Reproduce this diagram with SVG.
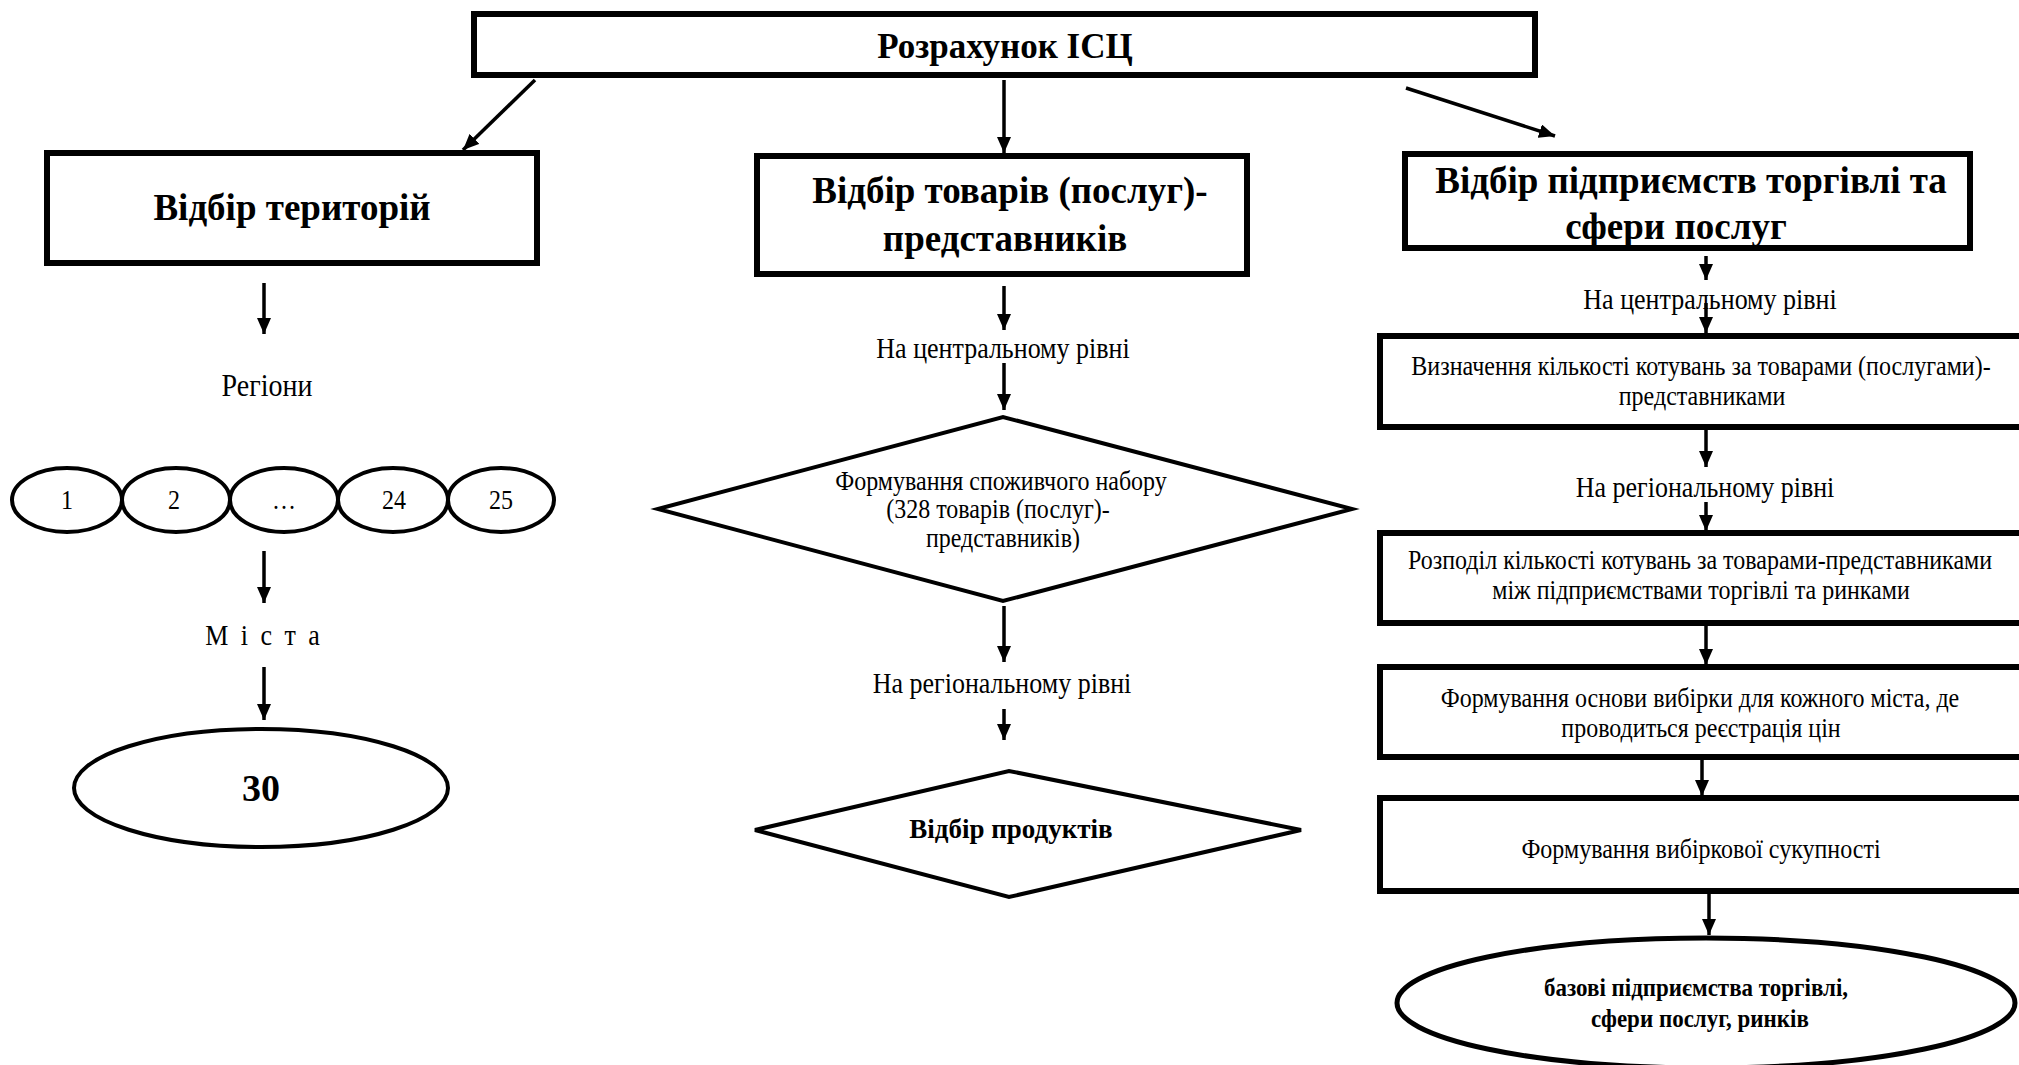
<svg xmlns="http://www.w3.org/2000/svg" width="2019" height="1065" viewBox="0 0 2019 1065">
<style>
.box{fill:#fff;stroke:#000;stroke-width:6}
.dia{fill:#fff;stroke:#000;stroke-width:4}
.ell{fill:#fff;stroke:#000;stroke-width:4}
.con{stroke:#000;stroke-width:3.5;fill:none;marker-end:url(#ah)}
text{font-family:"Liberation Serif","Times New Roman",serif;fill:#000;text-anchor:middle}
.h{font-size:37px;font-weight:bold}
.t{font-size:35px;font-weight:bold}
.r{font-size:24px}
.rl{font-size:26px}
.b{font-size:23px;font-weight:bold}
</style>
<defs>
<marker id="ah" markerUnits="userSpaceOnUse" markerWidth="16" markerHeight="14" refX="16" refY="7" orient="auto">
<path d="M0,0 L16,7 L0,14 z" fill="#000"/>
</marker>
</defs>
<rect width="2019" height="1065" fill="#fff"/>

<g id="connectors">
<line class="con" x1="535" y1="80" x2="463" y2="150"/>
<line class="con" x1="1004" y1="80" x2="1004" y2="153"/>
<line class="con" x1="1406" y1="88" x2="1555" y2="136"/>
<line class="con" x1="264" y1="283" x2="264" y2="334"/>
<line class="con" x1="264" y1="551" x2="264" y2="603"/>
<line class="con" x1="264" y1="667" x2="264" y2="720"/>
<line class="con" x1="1004" y1="286" x2="1004" y2="330"/>
<line class="con" x1="1004" y1="363" x2="1004" y2="410"/>
<line class="con" x1="1004" y1="606" x2="1004" y2="662"/>
<line class="con" x1="1004" y1="709" x2="1004" y2="740"/>
<line class="con" x1="1706" y1="256" x2="1706" y2="280"/>
<line class="con" x1="1706" y1="303" x2="1706" y2="333"/>
<line class="con" x1="1706" y1="430" x2="1706" y2="467"/>
<line class="con" x1="1706" y1="502" x2="1706" y2="531"/>
<line class="con" x1="1706" y1="625" x2="1706" y2="665"/>
<line class="con" x1="1702" y1="759" x2="1702" y2="796"/>
<line class="con" x1="1709" y1="893" x2="1709" y2="935"/>
</g>

<g id="n-top">
<rect class="box" x="474" y="14" width="1061" height="61"/>
<text class="t" x="1005" y="58">Розрахунок ІСЦ</text>
</g>

<g id="n-territories">
<rect class="box" x="47" y="153" width="490" height="110"/>
<text class="h" x="292" y="220">Відбір територій</text>
</g>

<g id="n-goods">
<rect class="box" x="757" y="156" width="490" height="118"/>
<text class="h" x="1010" y="203">Відбір товарів (послуг)-</text>
<text class="h" x="1005" y="251">представників</text>
</g>

<g id="n-enterprises">
<rect class="box" x="1405" y="154" width="565" height="94"/>
<text class="h" x="1691" y="193">Відбір підприємств торгівлі та</text>
<text class="h" x="1676" y="239">сфери послуг</text>
</g>

<g id="n-regions-label">
<text class="rl" style="font-size:28px" transform="translate(267,396) scale(1,1.15)">Регіони</text>
</g>

<g id="n-r1"><ellipse class="ell" cx="67" cy="500" rx="55" ry="32"/><text class="r" transform="translate(67,509) scale(1,1.15)">1</text></g>
<g id="n-r2"><ellipse class="ell" cx="176" cy="500" rx="54" ry="32"/><text class="r" transform="translate(174,509) scale(1,1.15)">2</text></g>
<g id="n-r3"><ellipse class="ell" cx="284" cy="500" rx="54" ry="32"/><text class="r" transform="translate(284,509) scale(1,1.15)">…</text></g>
<g id="n-r24"><ellipse class="ell" cx="393" cy="500" rx="55" ry="32"/><text class="r" transform="translate(394,509) scale(1,1.15)">24</text></g>
<g id="n-r25"><ellipse class="ell" cx="501" cy="500" rx="53" ry="32"/><text class="r" transform="translate(501,509) scale(1,1.15)">25</text></g>

<g id="n-cities-label">
<text class="rl" style="letter-spacing:3px" transform="translate(264,645) scale(1,1.15)">М і с т а</text>
</g>

<g id="n-30">
<ellipse class="ell" cx="261" cy="788" rx="187" ry="59"/>
<text class="t" style="font-size:38px" x="261" y="801">30</text>
</g>

<g id="n-central-mid">
<text class="rl" transform="translate(1003,358) scale(1,1.15)">На центральному рівні</text>
</g>

<g id="n-consumer-set">
<polygon class="dia" points="658,509 1003,417 1352,509 1003,601"/>
<text class="r" transform="translate(1001,490) scale(1,1.15)">Формування споживчого набору</text>
<text class="r" transform="translate(998,518) scale(1,1.15)">(328 товарів (послуг)-</text>
<text class="r" transform="translate(1003,547) scale(1,1.15)">представників)</text>
</g>

<g id="n-regional-mid">
<text class="rl" transform="translate(1002,693) scale(1,1.15)">На регіональному рівні</text>
</g>

<g id="n-products">
<polygon class="dia" points="755,830 1009,771 1301,830 1009,897"/>
<text class="b" style="font-size:27px" x="1011" y="838">Відбір продуктів</text>
</g>

<g id="n-central-right">
<text class="rl" transform="translate(1710,309) scale(1,1.15)">На центральному рівні</text>
</g>

<g id="n-quotes">
<rect class="box" x="1380" y="336" width="645" height="91"/>
<text class="r" transform="translate(1701,375) scale(1,1.15)">Визначення кількості котувань за товарами (послугами)-</text>
<text class="r" transform="translate(1702,405) scale(1,1.15)">представниками</text>
</g>

<g id="n-regional-right">
<text class="rl" transform="translate(1705,497) scale(1,1.15)">На регіональному рівні</text>
</g>

<g id="n-distribution">
<rect class="box" x="1380" y="533" width="645" height="90"/>
<text class="r" transform="translate(1700,569) scale(1,1.15)">Розподіл кількості котувань за товарами-представниками</text>
<text class="r" transform="translate(1701,599) scale(1,1.15)">між підприємствами торгівлі та ринками</text>
</g>

<g id="n-sample-base">
<rect class="box" x="1380" y="667" width="645" height="90"/>
<text class="r" transform="translate(1700,707) scale(1,1.15)">Формування основи вибірки для кожного міста, де</text>
<text class="r" transform="translate(1701,737) scale(1,1.15)">проводиться реєстрація цін</text>
</g>

<g id="n-sample">
<rect class="box" x="1380" y="798" width="645" height="93"/>
<text class="r" transform="translate(1701,858) scale(1,1.15)">Формування вибіркової сукупності</text>
</g>

<g id="n-base">
<ellipse class="ell" style="stroke-width:5" cx="1706" cy="1003" rx="309" ry="65"/>
<text class="b" transform="translate(1696,996) scale(1,1.12)">базові підприємства торгівлі,</text>
<text class="b" transform="translate(1700,1027) scale(1,1.12)">сфери послуг, ринків</text>
</g>
</svg>
